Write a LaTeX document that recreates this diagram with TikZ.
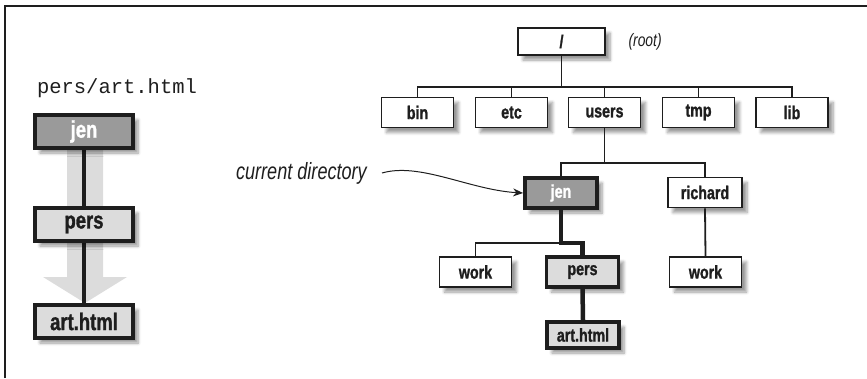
\documentclass[tikz,border=0pt]{standalone}
\usepackage{fontspec}
\setmainfont{Liberation Sans}
\newfontfamily\condf[FakeStretch=0.77, BoldFeatures={FakeBold=1.2}]{Liberation Sans}
\newfontfamily\monof{Liberation Mono}
\usetikzlibrary{shadows,shadows.blur,arrows.meta}
\definecolor{darkfill}{HTML}{9A9A9A}
\definecolor{lightfill}{HTML}{DCDCDC}
\definecolor{ink}{HTML}{1E1E1E}
\tikzset{
  dirbox/.style={draw=ink, line width=1.8pt, fill=white, inner sep=0pt,
    minimum width=72pt, minimum height=30pt,
    font=\condf\bfseries\fontsize{18.5}{18.5}\selectfont, text=ink,
    blur shadow={shadow xshift=5pt, shadow yshift=-5pt, shadow blur radius=3pt,
      shadow blur steps=6, shadow opacity=40}},
  curbox/.style={dirbox, line width=3.8pt, fill=darkfill, text=white},
  pathbox/.style={dirbox, line width=3.8pt, fill=lightfill},
  bigbox/.style={pathbox, minimum width=98pt, minimum height=33pt,
    font=\condf\bfseries\fontsize{24}{24}\selectfont},
  thinline/.style={draw=ink, line width=1.8pt},
  heavyline/.style={draw=ink, line width=4.5pt},
}
\begin{document}
\begin{tikzpicture}[x=1pt, y=-1pt]
\useasboundingbox (0,0) rectangle (867,378);
% frame
\draw[draw=ink, line width=2pt] (4.5,378) -- (4.5,5.5) -- (867,5.5);

% ---------- left panel ----------
\node[font=\monof\fontsize{20.5}{20.5}\selectfont, text=ink] (ptxt) at (117,88) {pers/art.html};
\fill[lightfill] (67,150) -- (103,150) -- (103,277) -- (127,277) -- (85,303) -- (43,277) -- (67,277) -- cycle;
\draw[heavyline] (84,140) -- (84,315);
\node[bigbox, fill=darkfill, text=white] (ljen) at (84,131.5) {jen};
\node[bigbox] (lpers) at (84,224.5) {pers};
\node[bigbox] (lart) at (84,321.5) {art.html};

% ---------- right tree ----------
\node[dirbox, minimum width=87pt, minimum height=27pt] (root) at (561.5,41.5) {/};
\node[font=\condf\itshape\fontsize{18}{18}\selectfont, text=ink, anchor=west] (rootlbl) at (625,42) {(root)};

\coordinate (b1) at (561.5,87);
\node[dirbox] (bin) at (417.5,112.5) {bin};
\node[dirbox] (etc) at (511.5,112.5) {etc};
\node[dirbox] (users) at (604.5,112.5) {users};
\node[dirbox] (tmp) at (698.5,112.5) {tmp};
\node[dirbox] (lib) at (792,112.5) {lib};

\coordinate (b2) at (604.5,163);
\node[curbox] (jen) at (561,193) {jen};
\node[dirbox, minimum width=74pt] (richard) at (705,192.5) {richard};

\coordinate (b3) at (561,243);
\node[dirbox] (work) at (475.5,272) {work};
\node[pathbox] (pers) at (582.5,272) {pers};
\node[dirbox] (work2) at (705.5,272) {work};
\node[pathbox, minimum height=26pt] (art) at (583,335) {art.html};

% connectors
\draw[thinline] (root.south) -- (b1);
\foreach \n in {bin,etc,users,tmp,lib} \draw[thinline] (\n.north) |- (b1);
\draw[thinline] (users.south) -- (b2);
\draw[thinline] (jen.north) |- (b2);
\draw[thinline] (richard.north) |- (b2);
\draw[thinline] (richard.south) -- (work2.north);
\draw[thinline] (work.north) |- (b3);
\draw[heavyline] (jen.south) -- (b3) -| (pers.north);
\draw[heavyline] (pers.south) -- (art.north);

% current directory label
\node[font=\condf\itshape\fontsize{23.5}{23.5}\selectfont, text=ink, anchor=east, inner sep=0pt] (cd) at (367,173) {current directory};
\coordinate (cdend) at ([xshift=15pt]cd.east);
\draw[draw=ink, line width=1pt, -{Stealth[length=10pt,width=8pt]}] (cdend) .. controls (420,162) and (470,190) .. (jen.west);
\end{tikzpicture}
\end{document}
